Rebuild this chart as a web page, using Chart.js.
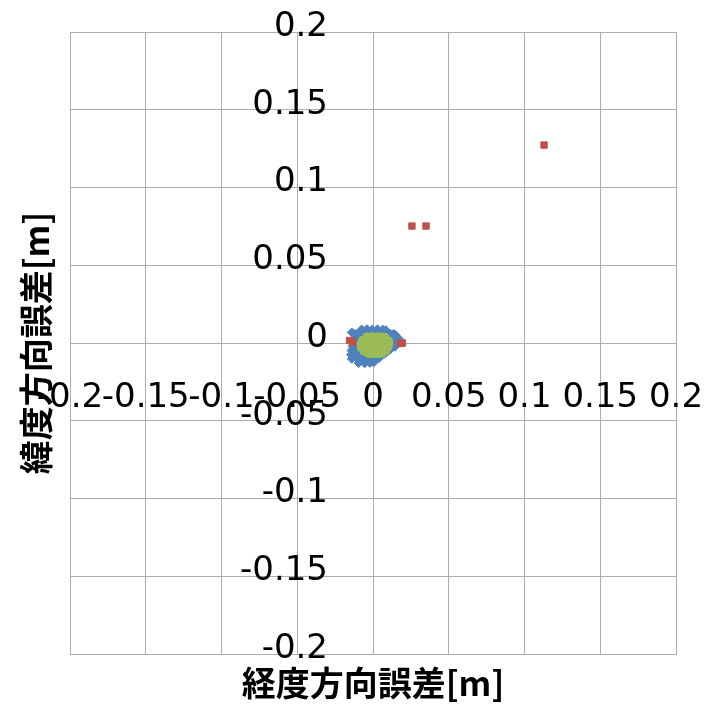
<!DOCTYPE html>
<html>
<head>
<meta charset="utf-8">
<script src="https://cdn.jsdelivr.net/npm/chart.js@4/dist/chart.umd.min.js"></script>
<style>
  html, body { margin: 0; padding: 0; background: #fff; }
  #wrap { width: 706px; height: 704px; position: relative; }
</style>
</head>
<body>
<div id="wrap"><canvas id="c"></canvas></div>
<script>
// ---- data ----
const xTitle = '経度方向誤差[m]';
const yTitle = '緯度方向誤差[m]';
const xTickLabels = ['-0.2', '-0.15', '-0.1', '-0.05', '0', '0.05', '0.1', '0.15', '0.2'];
const yTickLabels = ['-0.2', '-0.15', '-0.1', '-0.05', '0', '0.05', '0.1', '0.15', '0.2'];

// series 1 (blue): dense cluster around the origin
const bluePoints = [
  [-0.0140, 0.0068], [-0.0120, 0.0058],
  [-0.0075, 0.0087], [-0.0040, 0.0089], [-0.0005, 0.0086], [0.0030, 0.0088], [0.0065, 0.0086], [0.0085, 0.0082],
  [-0.0100, 0.0060], [-0.0065, 0.0061], [-0.0030, 0.0059], [0.0005, 0.0060], [0.0040, 0.0062], [0.0075, 0.0060], [0.0110, 0.0061], [0.0135, 0.0058], [0.0148, 0.0052],
  [-0.0115, 0.0033], [-0.0080, 0.0034], [-0.0045, 0.0032], [-0.0010, 0.0033], [0.0025, 0.0035], [0.0060, 0.0033], [0.0095, 0.0032], [0.0130, 0.0034], [0.0160, 0.0031], [0.0170, 0.0028],
  [-0.0125, 0.0006], [-0.0090, 0.0007], [-0.0055, 0.0005], [-0.0020, 0.0006], [0.0015, 0.0008], [0.0050, 0.0005], [0.0085, 0.0006], [0.0120, 0.0007], [0.0150, 0.0004], [0.0162, 0.0002],
  [-0.0135, -0.0021], [-0.0100, -0.0020], [-0.0065, -0.0022], [-0.0030, -0.0021], [0.0005, -0.0019], [0.0040, -0.0021], [0.0075, -0.0022], [0.0110, -0.0020], [0.0145, -0.0024],
  [-0.0142, -0.0048], [-0.0107, -0.0049], [-0.0072, -0.0047], [-0.0037, -0.0048], [-0.0002, -0.0050], [0.0033, -0.0048], [0.0068, -0.0049], [0.0100, -0.0050], [0.0112, -0.0044],
  [-0.0145, -0.0075], [-0.0107, -0.0076], [-0.0072, -0.0074], [-0.0037, -0.0075], [-0.0002, -0.0077], [0.0033, -0.0075], [0.0060, -0.0073], [0.0078, -0.0068],
  [-0.0140, -0.0102], [-0.0100, -0.0103], [-0.0065, -0.0101], [-0.0030, -0.0102], [0.0005, -0.0104], [0.0040, -0.0097],
  [-0.0095, -0.0129], [-0.0055, -0.0131], [-0.0020, -0.0128], [0.0005, -0.0124]
];

// series 2 (red): a few points at the cluster edge and three outliers
const redPoints = [
  [-0.0155, 0.0016], [-0.0135, 0.0006], [0.0020, 0.0010], [-0.0040, -0.0030], [0.0080, 0.0020],
  [0.0182, -0.0003], [0.0194, 0.0000],
  [0.0257, 0.0752], [0.0350, 0.0752], [0.1129, 0.1273]
];

// series 3 (green): inner cluster
const greenPoints = [
  [-0.0040, 0.0040], [-0.0008, 0.0042], [0.0024, 0.0041], [0.0056, 0.0040], [0.0080, 0.0037],
  [-0.0070, 0.0018], [-0.0038, 0.0019], [-0.0006, 0.0017], [0.0026, 0.0019], [0.0058, 0.0018], [0.0088, 0.0019], [0.0104, 0.0015],
  [-0.0080, -0.0006], [-0.0048, -0.0005], [-0.0016, -0.0007], [0.0016, -0.0006], [0.0048, -0.0005], [0.0080, -0.0007], [0.0106, -0.0006],
  [-0.0078, -0.0030], [-0.0046, -0.0029], [-0.0014, -0.0031], [0.0018, -0.0030], [0.0050, -0.0029], [0.0082, -0.0031], [0.0100, -0.0027],
  [-0.0060, -0.0052], [-0.0028, -0.0053], [0.0004, -0.0052], [0.0036, -0.0054], [0.0068, -0.0052], [0.0086, -0.0049],
  [-0.0030, -0.0068], [0.0002, -0.0069], [0.0034, -0.0068], [0.0060, -0.0066]
];

const toXY = pts => pts.map(p => ({ x: p[0], y: p[1] }));

const GRID = '#ADADAD';
const tickFont = { family: '"DejaVu Sans", Verdana, sans-serif', size: 34 };
// y tick labels sit a few pixels above their grid line, as in the reference
const yTickFont = { family: '"DejaVu Sans", Verdana, sans-serif', size: 34, lineHeight: '10px' };
const titleFont = { family: '"Noto Sans CJK JP", sans-serif', size: 34, weight: 'bold', lineHeight: 1 };

new Chart(document.getElementById('c'), {
  type: 'scatter',
  data: {
    datasets: [
      { label: 'series1', data: toXY(bluePoints), pointStyle: 'rectRot', pointRadius: 4.5, borderWidth: 1,
        backgroundColor: '#4F81BD', borderColor: '#4F81BD', order: 3 },
      { label: 'series2', data: toXY(redPoints), pointStyle: 'rect', pointRadius: 4.5, borderWidth: 1,
        backgroundColor: '#C0504D', borderColor: '#C0504D', order: 2 },
      { label: 'series3', data: toXY(greenPoints), pointStyle: 'circle', pointRadius: 4, borderWidth: 1,
        backgroundColor: '#9BBB59', borderColor: '#9BBB59', order: 1 }
    ]
  },
  options: {
    responsive: true,
    maintainAspectRatio: false,
    animation: false,
    devicePixelRatio: 1,
    layout: { padding: { left: 0, right: 30, top: 32, bottom: 0 } },
    plugins: { legend: { display: false }, tooltip: { enabled: false } },
    scales: {
      x: {
        type: 'linear', position: 'bottom', min: -0.2, max: 0.2,
        ticks: { display: false, stepSize: 0.05 },
        grid: { color: GRID, lineWidth: 1, drawTicks: false },
        border: { display: true, color: GRID },
        title: { display: true, text: xTitle, color: '#000', font: titleFont, padding: { top: 12, bottom: 4 } }
      },
      y: {
        type: 'linear', position: 'left', min: -0.2, max: 0.2,
        ticks: { display: false, stepSize: 0.05 },
        grid: { color: GRID, lineWidth: 1, drawTicks: false },
        border: { display: true, color: GRID },
        title: { display: true, text: yTitle, color: '#000', font: titleFont, padding: { top: 19, bottom: 17 } }
      },
      xc: {
        type: 'linear', axis: 'x', position: 'center', min: -0.2, max: 0.2,
        ticks: { stepSize: 0.05, autoSkip: false, maxRotation: 0, minRotation: 0, padding: 0,
                 color: '#000', font: tickFont, callback: (v, i) => xTickLabels[i] },
        grid: { display: true, drawOnChartArea: false, drawTicks: true, tickLength: 35, tickColor: 'rgba(0,0,0,0)' },
        border: { display: false }
      },
      yc: {
        type: 'linear', axis: 'y', position: 'center', min: -0.2, max: 0.2,
        ticks: { stepSize: 0.05, autoSkip: false, padding: 0,
                 color: '#000', font: yTickFont, callback: (v, i) => [yTickLabels[i], ''] },
        grid: { display: true, drawOnChartArea: false, drawTicks: true, tickLength: 45, tickColor: 'rgba(0,0,0,0)' },
        border: { display: false }
      }
    }
  }
});
</script>
</body>
</html>
